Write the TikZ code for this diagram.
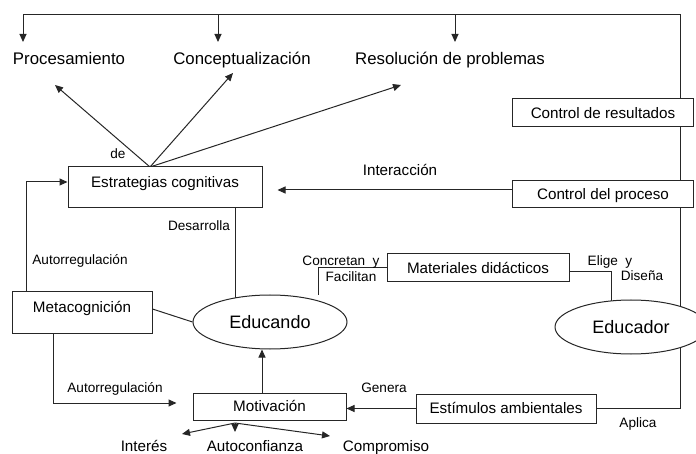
\documentclass[tikz,border=0pt]{standalone}
\usepackage{fontspec}
\setmainfont{Liberation Sans}
\usetikzlibrary{arrows.meta,shapes.geometric,backgrounds,calc}
\begin{document}
\begin{tikzpicture}[x=1pt,y=-1pt,
  conn/.style={draw=black!85, line width=1pt},
  arr/.style={conn, -{Triangle[length=8pt,width=7pt]}},
  box/.style={draw=black!85, line width=1pt, fill=white, rectangle, inner sep=0pt,
    font=\fontsize{15.2}{17}\selectfont, text height=10.5pt, text depth=0pt},
  tallbox/.style={box, text height=11pt, text depth=11pt},
  oval/.style={draw=black!85, line width=1pt, fill=white, ellipse, inner sep=0pt,
    font=\fontsize{18}{20}\selectfont},
  toplbl/.style={font=\fontsize{16.8}{19}\selectfont, inner sep=0pt, text height=12pt, text depth=0pt},
  lbl/.style={font=\fontsize{13.6}{15}\selectfont, inner sep=0pt, text height=9.8pt, text depth=0pt},
  midlbl/.style={font=\fontsize{15.2}{17}\selectfont, inner sep=0pt, text height=10.9pt, text depth=0pt},
]
\useasboundingbox (0,0) rectangle (696,454);

% top labels
\node[toplbl] (proc) at (69,59) {Procesamiento};
\node[toplbl] (conc) at (242,59) {Conceptualización};
\node[toplbl] (reso) at (450,59) {Resolución de problemas};

% boxes
\node[tallbox, minimum width=194pt, minimum height=41pt] (estr) at (165,187.5) {Estrategias cognitivas};
\node[box, minimum width=181pt, minimum height=28pt] (cres) at (603,113) {Control de resultados};
\node[box, minimum width=181pt, minimum height=27pt] (cproc) at (603,194.5) {Control del proceso};
\node[tallbox, minimum width=140pt, minimum height=41pt] (meta) at (82,312.5) {Metacognición};
\node[oval, minimum width=154pt, minimum height=54pt] (educando) at (270,322) {Educando};
\node[oval, minimum width=152pt, minimum height=54pt] (educador) at (631,327) {Educador};
\node[box, minimum width=182pt, minimum height=28pt] (mat) at (478,268) {Materiales didácticos};
\node[box, minimum width=153pt, minimum height=27pt] (motiv) at (269.5,406.5) {Motivación};
\node[box, minimum width=180pt, minimum height=29pt] (estim) at (506,408.5) {Estímulos ambientales};

% bottom labels
\node[midlbl] (interes) at (144,446) {Interés};
\node[midlbl] (autoc) at (255,446) {Autoconfianza};
\node[midlbl] (comp) at (386,446) {Compromiso};

% connector labels
\node[lbl] (lde) at (118,154) {de};
\node[midlbl] (linter) at (400,170) {Interacción};
\node[lbl] (ldes) at (199,226) {Desarrolla};
\node[lbl] (lauto1) at (80,260) {Autorregulación};
\node[lbl] (lauto2) at (115,388) {Autorregulación};
\node[lbl] (lconc) at (341,261) {Concretan\ \ y};
\node[lbl] (lfac) at (351,277) {Facilitan};
\node[lbl] (lelige) at (610,261) {Elige\ \ y};
\node[lbl] (ldis) at (642,276) {Diseña};
\node[lbl] (lgen) at (384,388) {Genera};
\node[lbl] (lapl) at (638,423) {Aplica};

\begin{pgfonlayer}{background}
  % coordinates
  \coordinate (rc) at (680,15);
  \coordinate (lc) at (23,15);
  \coordinate (tc) at (218,15);
  \coordinate (tr) at (455,15);
  \coordinate (sapex) at (150,167);
  \coordinate (tipP) at (55,85);
  \coordinate (tipC) at (233,73);
  \coordinate (tipR) at (401,85);
  \coordinate (desx) at (235,0);
  \coordinate (lx) at (26,0);
  \coordinate (mx) at (53,0);
  \coordinate (ux) at (262,0);
  \coordinate (matr) at (611,0);
  \coordinate (matl) at (318,295);
  \coordinate (mapex) at (235,423);
  \coordinate (tipI) at (182,434);
  \coordinate (tipA) at (235,432);
  \coordinate (tipCo) at (330,436);

  % educador feedback loop to the top
  \draw[arr] (estim.east) -- (estim.east -| rc) -- (rc) -- (lc) -- ++(0,27);
  \draw[arr] (tc) -- ++(0,27);
  \draw[arr] (tr) -- ++(0,27);

  % strategies
  \draw[arr] (sapex) -- (tipP);
  \draw[arr] (sapex) -- (tipC);
  \draw[arr] (sapex) -- (tipR);

  % interaction
  \draw[arr, shorten >=15pt] ($(cproc.west)+(0,-4.5)$) -- ($(estr.east)+(0,2.5)$);

  % desarrolla
  \draw[conn] (estr.south -| desx) -- (educando.center -| desx);

  % metacognicion
  \draw[conn] ($(meta.east)+(0,-3.5)$) -- (educando.west);
  \draw[arr] (meta.north -| lx) |- ($(estr.west)+(0,-5.5)$);
  \draw[arr, shorten >=16pt] (meta.south -| mx) |- ($(motiv.west)+(0,-3.5)$);

  % motivacion
  \draw[arr] (motiv.north -| ux) -- (educando.south -| ux);
  \draw[arr] (estim.west) -- (estim.west -| motiv.east);
  \draw[arr] (mapex) -- (tipI);
  \draw[arr] (mapex) -- (tipA);
  \draw[arr] (mapex) -- (tipCo);

  % materiales
  \draw[conn] ($(mat.east)+(0,4)$) -| (educador.center -| matr);
  \draw[conn] (mat.west) -| (matl);
\end{pgfonlayer}
\end{tikzpicture}
\end{document}
